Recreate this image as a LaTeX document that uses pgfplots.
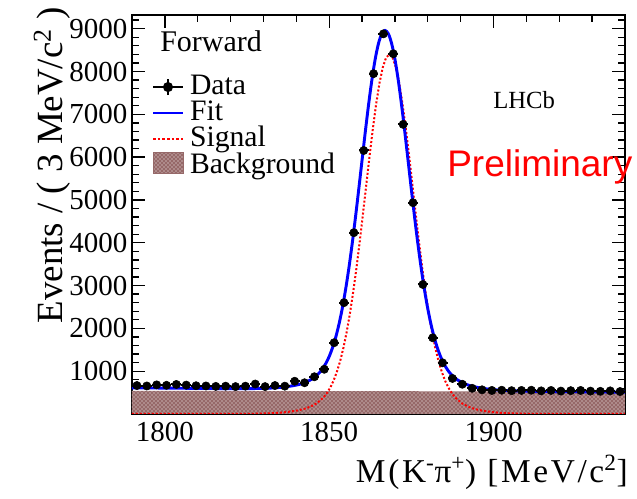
\documentclass[border=0pt]{standalone}
\usepackage{fontspec}
\setmainfont{Liberation Serif}
\newfontfamily\arialfont{Liberation Sans}
\newfontfamily\widefont[LetterSpace=8]{Liberation Serif}
\usepackage{pgfplots}
\pgfplotsset{compat=1.18}
\usepackage{pgfplotstable}
\usetikzlibrary{patterns}

\definecolor{bkgfill}{RGB}{150,105,105}

\pgfplotsset{
  datalegend/.style={legend image code/.code={\draw[##1, mark repeat=2, mark phase=2] plot coordinates {(0pt,0pt) (11.25pt,0pt) (22.5pt,0pt)}; \draw[black, line width=1.5pt] (11.25pt,-6pt) -- (11.25pt,6pt);}},
  linelegend/.style={legend image code/.code={\draw[##1] (0pt,0pt) -- (22.5pt,0pt);}},
  boxlegend/.style={legend image code/.code={\draw[##1] (0pt,-5pt) rectangle (22.5pt,11pt);}},
}

\pgfplotstableread{
x y ex ey
1791.5 665 1.5 26
1794.5 655 1.5 26
1797.5 680 1.5 26
1800.5 670 1.5 26
1803.5 690 1.5 26
1806.5 675 1.5 26
1809.5 660 1.5 26
1812.5 655 1.5 26
1815.5 645 1.5 25
1818.5 650 1.5 25
1821.5 640 1.5 25
1824.5 650 1.5 25
1827.5 700 1.5 26
1830.5 640 1.5 25
1833.5 665 1.5 26
1836.5 650 1.5 25
1839.5 765 1.5 28
1842.5 730 1.5 27
1845.5 870 1.5 29
1848.5 1045 1.5 32
1851.5 1665 1.5 41
1854.5 2600 1.5 51
1857.5 4235 1.5 65
1860.5 6155 1.5 78
1863.5 7950 1.5 89
1866.5 8880 1.5 94
1869.5 8415 1.5 92
1872.5 6765 1.5 82
1875.5 4935 1.5 70
1878.5 3025 1.5 55
1881.5 1780 1.5 42
1884.5 1195 1.5 35
1887.5 830 1.5 29
1890.5 695 1.5 26
1893.5 600 1.5 24
1896.5 565 1.5 24
1899.5 550 1.5 23
1902.5 555 1.5 23
1905.5 545 1.5 23
1908.5 550 1.5 23
1911.5 555 1.5 23
1914.5 540 1.5 23
1917.5 550 1.5 23
1920.5 535 1.5 23
1923.5 545 1.5 23
1926.5 550 1.5 23
1929.5 535 1.5 23
1932.5 530 1.5 23
1935.5 540 1.5 23
1938.5 525 1.5 23
}\datatab

\begin{document}
\begin{tikzpicture}
\useasboundingbox (-99pt,-63.75pt) rectangle (378.75pt,310.5pt);
\begin{axis}[
  at={(0pt,0pt)}, anchor=south west,
  scale only axis, width=369.75pt, height=299.25pt,
  xmin=1790, xmax=1940, ymin=0, ymax=9320,
  xtick={1800,1850,1900}, minor xtick={1790,1800,...,1940},
  ytick={1000,2000,...,9000}, minor ytick={0,200,...,9200},
  tick align=inside, tick pos=both,
  major tick length=9.75pt, minor tick length=5pt,
  every tick/.style={black, line width=1pt},
  axis line style={line width=1.3pt},
  tick label style={font=\fontsize{21.75}{26}\selectfont},
  /pgf/number format/assume math mode=true,
  /pgf/number format/1000 sep={},
  xticklabel style={yshift=-3pt},
  legend cell align=left,
  legend style={at={(0.0406,0.852)}, anchor=north west, draw=none, fill=none,
    inner sep=0pt, outer sep=0pt, font=\fontsize{22.25}{19.5}\selectfont,
    row sep=0pt, column sep=4.5pt,
    nodes={inner sep=0pt, text height=15pt, text depth=4.5pt}},
]
% background area
\addplot[draw=none, fill=bkgfill, postaction={pattern=crosshatch dots, pattern color=white}, forget plot]
  coordinates {(1790,540) (1940,525)} \closedcycle;

% signal
\addplot[red, line width=1.5pt, dash pattern=on 1.5pt off 1.5pt, forget plot] coordinates {
(1790,0) (1810,0) (1821.3,1) (1826.3,4) (1831.3,14) (1834.3,26) (1837.3,47) (1840.3,82)
(1842.3,117) (1844.3,171) (1846.3,254) (1848.3,389) (1849.3,487) (1850.3,613)
(1851.3,772) (1852.3,976) (1853.3,1226) (1854.3,1536) (1855.3,1907) (1856.3,2345)
(1857.3,2848) (1858.3,3414) (1859.3,4033) (1860.3,4690) (1861.3,5367) (1862.3,6037)
(1863.3,6674) (1864.3,7248) (1865.3,7730) (1866.3,8095) (1867.3,8323) (1868.3,8400)
(1869.3,8323) (1870.3,8095) (1871.3,7730) (1872.3,7248) (1873.3,6674) (1874.3,6037)
(1875.3,5367) (1876.3,4690) (1877.3,4033) (1878.3,3414) (1879.3,2848) (1880.3,2345)
(1881.3,1907) (1882.3,1536) (1883.3,1226) (1884.3,976) (1885.3,772) (1886.3,613)
(1887.3,487) (1888.3,389) (1890.3,254) (1892.3,171) (1894.3,117) (1896.3,82)
(1899.3,47) (1902.3,26) (1905.3,14) (1910.3,4) (1915.3,1) (1926,0) (1940,0)
};

% fit
\addplot[blue, line width=2.2pt, smooth, forget plot] coordinates {
(1790,612) (1800,605) (1810,598) (1820,592) (1825,592) (1830,599) (1833,609) (1836,628)
(1839,661) (1841,694) (1843,747) (1845,829) (1847,962) (1848,1060) (1849,1185)
(1850,1343) (1851,1547) (1852,1796) (1853,2105) (1854,2475) (1855,2913) (1856,3415)
(1857,3980) (1858,4599) (1859,5255) (1860,5931) (1861,6601) (1862,7237) (1863,7810)
(1864,8291) (1865,8656) (1866,8883) (1867,8959) (1868,8882) (1869,8653) (1870,8287)
(1871,7805) (1872,7230) (1873,6592) (1874,5922) (1875,5244) (1876,4586) (1877,3967)
(1878,3400) (1879,2896) (1880,2457) (1881,2086) (1882,1775) (1883,1524) (1884,1320)
(1885,1160) (1886,1033) (1887,935) (1889,798) (1891,714) (1893,658) (1895,622)
(1898,585) (1901,562) (1904,548) (1909,534) (1914,528) (1920,523) (1930,516) (1940,509)
};

% data
\addplot[black, only marks, mark=*, mark size=3.1pt, forget plot,
  error bars/.cd, x dir=both, x explicit, y dir=both, y explicit,
  error bar style={line width=1.5pt}, error mark=none]
  table[x=x, y=y, x error=ex, y error=ey] {\datatab};

\addlegendimage{black, line width=1.5pt, mark=*, mark size=3pt, datalegend}
\addlegendentry{Data}
\addlegendimage{blue, line width=1.5pt, linelegend}
\addlegendentry{Fit}
\addlegendimage{red, line width=1.3pt, dash pattern=on 2pt off 1.5pt, linelegend}
\addlegendentry{Signal}
\addlegendimage{fill=bkgfill, draw=bkgfill, postaction={pattern=crosshatch dots, pattern color=white}, boxlegend}
\addlegendentry{Background}
\end{axis}

\node[anchor=base west, inner sep=0pt, font=\fontsize{22.5}{27}\selectfont] at (21pt,271.5pt) {Forward};
\node[anchor=base west, inner sep=0pt, font=\fontsize{18.5}{22}\selectfont] at (270.75pt,228.75pt) {LHCb};
\node[anchor=base west, inner sep=0pt, text=red, font=\arialfont\fontsize{27.75}{32}\selectfont] at (236.25pt,177.75pt) {Preliminary};
\node[anchor=base east, inner sep=0pt, font=\widefont\fontsize{25}{30}\selectfont] at (372pt,-51.75pt) {M(K\textsuperscript{-}π\textsuperscript{+}) [MeV/c\textsuperscript{2}]};
\node[rotate=90, anchor=base east, inner sep=0pt, font=\fontsize{27.7}{32}\selectfont] at (-51.75pt,305.25pt) {Events / ( 3 MeV/c\textsuperscript{2} )};
\end{tikzpicture}
\end{document}
